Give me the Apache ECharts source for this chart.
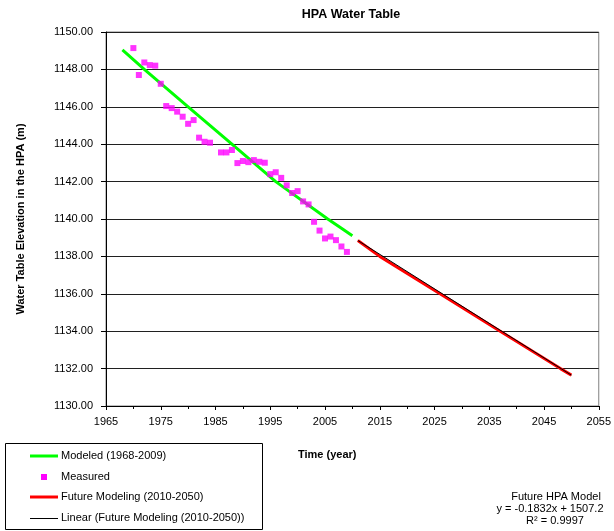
<!DOCTYPE html>
<html>
<head>
<meta charset="utf-8">
<script src="https://cdn.jsdelivr.net/npm/echarts@6/dist/echarts.min.js"></script>
<style>
html,body{margin:0;padding:0;background:#fff;}
#chart{width:614px;height:531px;}
</style>
</head>
<body>
<div id="chart"></div>
<script>
// ---- data ----
const measuredYears = [1970,1971,1972,1973,1974,1975,1976,1977,1978,1979,1980,1981,1982,1983,1984,1986,1987,1988,1989,1990,1991,1992,1993,1994,1995,1996,1997,1998,1999,2000,2001,2002,2003,2004,2005,2006,2007,2008,2009];
const measuredValues = [1149.14,1147.70,1148.37,1148.23,1148.20,1147.23,1146.04,1145.93,1145.74,1145.47,1145.09,1145.29,1144.35,1144.13,1144.08,1143.56,1143.56,1143.69,1142.99,1143.10,1143.04,1143.15,1143.06,1143.01,1142.40,1142.50,1142.20,1141.80,1141.39,1141.49,1140.94,1140.78,1139.85,1139.38,1138.96,1139.06,1138.87,1138.53,1138.24];

const modeledYears = [1968,1972,1980,1988,1996,2005.5,2008,2010];
const modeledValues = [1149.05,1148.0,1146.0,1144.0,1142.0,1140.0,1139.5,1139.1];

const futureYears = [2011,2015,2026,2037,2048,2050];
const futureValues = [1138.85,1138.0,1136.0,1134.0,1132.0,1131.65];

const linearYears = [2011,2050];
const linearValues = [1138.85,1131.65];

const xTickMin = 1965, xTickMax = 2055, xTickStep = 10;
const yTickMin = 1130, yTickMax = 1150, yTickStep = 2;

const seriesNames = ['Modeled (1968-2009)','Measured','Future Modeling (2010-2050)','Linear (Future Modeling (2010-2050))'];
const annotationLines = ['Future HPA Model','y = -0.1832x + 1507.2','R\u00B2 = 0.9997'];

const zip = (a,b) => a.map((v,i)=>[v,b[i]]);
const FONT = 'Liberation Sans, Arial, sans-serif';

// legend drawn as graphics (box, sample marks, labels)
const legendRowsY = [456,477,497,518];
const legendGraphics = [
  {type:'rect',shape:{x:5.5,y:443.5,width:257,height:86},style:{fill:'#fff',stroke:'#000',lineWidth:1}},
  {type:'line',shape:{x1:30,y1:legendRowsY[0],x2:58,y2:legendRowsY[0]},style:{stroke:'#00FF00',lineWidth:3}},
  {type:'rect',shape:{x:41,y:legendRowsY[1]-3,width:6,height:6},style:{fill:'#FF00FF'}},
  {type:'line',shape:{x1:30,y1:legendRowsY[2],x2:58,y2:legendRowsY[2]},style:{stroke:'#FF0000',lineWidth:3}},
  {type:'line',shape:{x1:30,y1:legendRowsY[3]+0.5,x2:58,y2:legendRowsY[3]+0.5},style:{stroke:'#000',lineWidth:1}}
].concat(seriesNames.map((n,i)=>({
  type:'text',x:61,y:legendRowsY[i],
  style:{text:n,fontFamily:FONT,fontSize:11,fill:'#000',textVerticalAlign:'middle',verticalAlign:'middle'}
})));

const annX = [556,550,555], annY = [497,509,521];
const annGraphics = annotationLines.map((t,i)=>({
  type:'text',x:annX[i],y:annY[i],
  style:{text:t,fontFamily:FONT,fontSize:11,fill:'#000',align:'center',textAlign:'center',verticalAlign:'middle',textVerticalAlign:'middle'}
}));

const chart = echarts.init(document.getElementById('chart'), null, {renderer:'canvas'});
chart.setOption({
  animation:false,
  backgroundColor:'#fff',
  graphic:[
    {type:'text',x:351,y:15,style:{text:'HPA Water Table',fontFamily:FONT,fontSize:12.5,fontWeight:'bold',fill:'#000',align:'center',verticalAlign:'middle'}},
    {type:'text',left:298,top:449,style:{text:'Time (year)',fontFamily:FONT,fontSize:11,fontWeight:'bold',fill:'#000'}}
  ].concat(legendGraphics, annGraphics),
  grid:{left:106,right:15,top:32,bottom:125,containLabel:false,show:true,borderColor:'#808080',borderWidth:1,backgroundColor:'transparent'},
  xAxis:{
    type:'value', min:xTickMin, max:xTickMax, interval:xTickStep,
    axisLine:{show:true,onZero:false,lineStyle:{color:'#000',width:1}},
    axisTick:{show:true,length:4,lineStyle:{color:'#000'}},
    minorTick:{show:true,splitNumber:2,length:3,lineStyle:{color:'#000'}},
    axisLabel:{fontFamily:FONT,fontSize:11,color:'#000',margin:10,formatter:v=>String(v)},
    splitLine:{show:false}
  },
  yAxis:{
    type:'value', min:yTickMin, max:yTickMax, interval:yTickStep,
    name:'Water Table Elevation in the HPA (m)', nameLocation:'middle', nameGap:80, nameRotate:90,
    nameTextStyle:{fontFamily:FONT,fontSize:11,fontWeight:'bold',color:'#000'},
    axisLine:{show:true,lineStyle:{color:'#000',width:1}},
    axisTick:{show:true,length:5,lineStyle:{color:'#000'}},
    axisLabel:{fontFamily:FONT,fontSize:11,color:'#000',margin:13,formatter:v=>v.toFixed(2)},
    splitLine:{show:true,lineStyle:{color:'#202020',width:1}}
  },
  series:[
    {name:seriesNames[0],type:'line',data:zip(modeledYears,modeledValues),symbol:'none',lineStyle:{color:'#00FF00',width:3},itemStyle:{color:'#00FF00'},z:3},
    {name:seriesNames[1],type:'scatter',data:zip(measuredYears,measuredValues),symbol:'rect',symbolSize:6,itemStyle:{color:'#FF00FF'},z:4},
    {name:seriesNames[2],type:'line',data:zip(futureYears,futureValues),symbol:'none',lineStyle:{color:'#FF0000',width:3},itemStyle:{color:'#FF0000'},z:3},
    {name:seriesNames[3],type:'line',data:zip(linearYears,linearValues),symbol:'none',lineStyle:{color:'#000',width:1},itemStyle:{color:'#000'},z:5}
  ]
});
</script>
</body>
</html>
